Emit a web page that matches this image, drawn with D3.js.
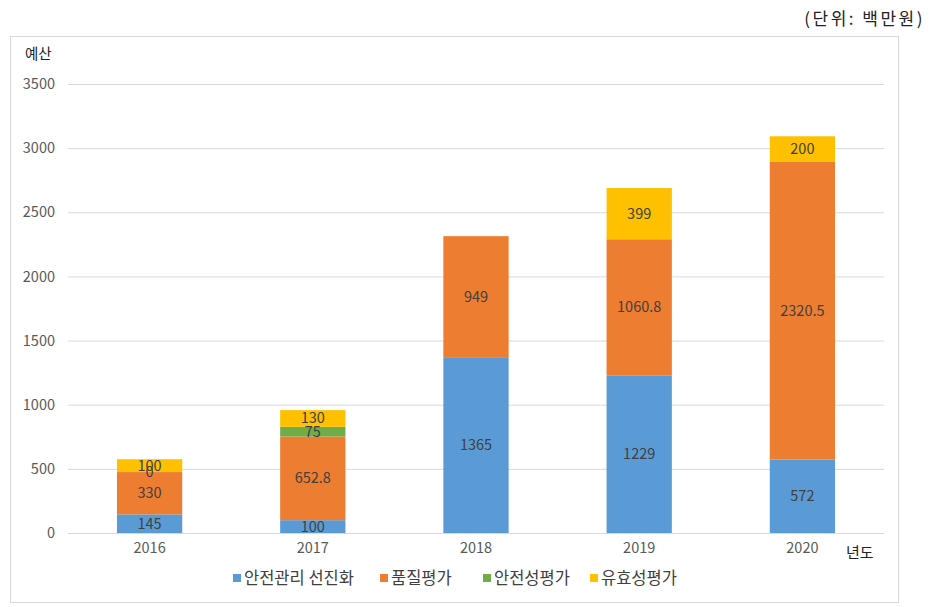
<!DOCTYPE html>
<html><head><meta charset="utf-8">
<script src="https://cdn.jsdelivr.net/npm/d3@7"></script>
<style>body{margin:0;background:#fff;} svg{display:block;font-family:"Noto Sans CJK KR","Noto Sans",sans-serif;}</style>
</head><body>
<svg id="c" width="940" height="607"></svg>
<script>
const years = ["2016","2017","2018","2019","2020"];
const seriesNames = ["안전관리 선진화","품질평가","안전성평가","유효성평가"];
const colors = ["#5B9BD5","#ED7D31","#70AD47","#FFC000"];
const safetyMgmt = [145, 100, 1365, 1229, 572];
const quality = [330, 652.8, 949, 1060.8, 2320.5];
const safetyEval = [0, 75, null, null, null];
const efficacy = [100, 130, null, 399, 200];
const yTicks = [0,500,1000,1500,2000,2500,3000,3500];

const seriesVals = [safetyMgmt, quality, safetyEval, efficacy];
const svg = d3.select("#c");

// outer frame
svg.append("rect").attr("x",10.5).attr("y",36.5).attr("width",888).attr("height",566)
  .attr("fill","none").attr("stroke","#d9d9d9");

svg.append("text").attr("x",925).attr("y",25).attr("text-anchor","end")
  .attr("font-size",17).attr("letter-spacing",2.5).attr("fill","#222").text("(단위:  백만원)");

const x = d3.scaleBand().domain(years).range([68,884]).paddingInner(0.6).paddingOuter(0.3);
const y = d3.scaleLinear().domain([0,3500]).range([533,84]);

// gridlines
svg.append("g").selectAll("line").data(yTicks).join("line")
  .attr("x1",68).attr("x2",884).attr("y1",d=>y(d)+0.5).attr("y2",d=>y(d)+0.5)
  .attr("stroke","#d9d9d9");

const yAxis = d3.axisLeft(y).tickValues(yTicks).tickFormat(d3.format("d")).tickSize(0).tickPadding(13);
const gy = svg.append("g").attr("transform","translate(68,0)").call(yAxis);
gy.select(".domain").remove();
gy.selectAll("text").attr("font-size",14.5).attr("fill","#595959").attr("font-family","\"Noto Sans CJK KR\",sans-serif");

const xAxis = d3.axisBottom(x).tickSize(0).tickPadding(10);
const gx = svg.append("g").attr("transform","translate(0,533)").call(xAxis);
gx.select(".domain").remove();
gx.selectAll("text").attr("font-size",14.5).attr("fill","#595959").attr("font-family","\"Noto Sans CJK KR\",sans-serif");

svg.append("text").attr("x",25).attr("y",59).attr("font-size",14.5).attr("fill","#222").text("예산");
svg.append("text").attr("x",846).attr("y",558).attr("font-size",15).attr("fill","#222").text("년도");

// stack
const rows = years.map((yr,i)=>{const o={year:yr}; seriesNames.forEach((s,j)=>o[s]=seriesVals[j][i]||0); return o;});
const stack = d3.stack().keys(seriesNames)(rows);
const gBars = svg.append("g");
stack.forEach((layer,j)=>{
  gBars.append("g").selectAll("rect").data(layer).join("rect")
    .attr("x",d=>x(d.data.year)).attr("width",x.bandwidth())
    .attr("y",d=>y(d[1])).attr("height",d=>y(d[0])-y(d[1]))
    .attr("fill",colors[j]);
});
stack.forEach((layer,j)=>{
  gBars.append("g").selectAll("text").data(layer.filter((d,i)=>seriesVals[j][i]!==null)).join("text")
    .attr("x",d=>x(d.data.year)+x.bandwidth()/2)
    .attr("y",d=>(y(d[0])+y(d[1]))/2+5)
    .attr("text-anchor","middle").attr("font-size",14.5).attr("fill","#404040")
    .text(d=>String(d[1]-d[0]===0?0:+(d[1]-d[0]).toFixed(1)));
});

// legend
const legX = [233,380,483,590];
const lg = svg.append("g");
seriesNames.forEach((s,j)=>{
  lg.append("rect").attr("x",legX[j]).attr("y",574).attr("width",8).attr("height",8).attr("fill",colors[j]);
  lg.append("text").attr("x",legX[j]+11).attr("y",584).attr("font-size",16.5).attr("fill","#404040").text(s);
});
</script>
</body></html>
